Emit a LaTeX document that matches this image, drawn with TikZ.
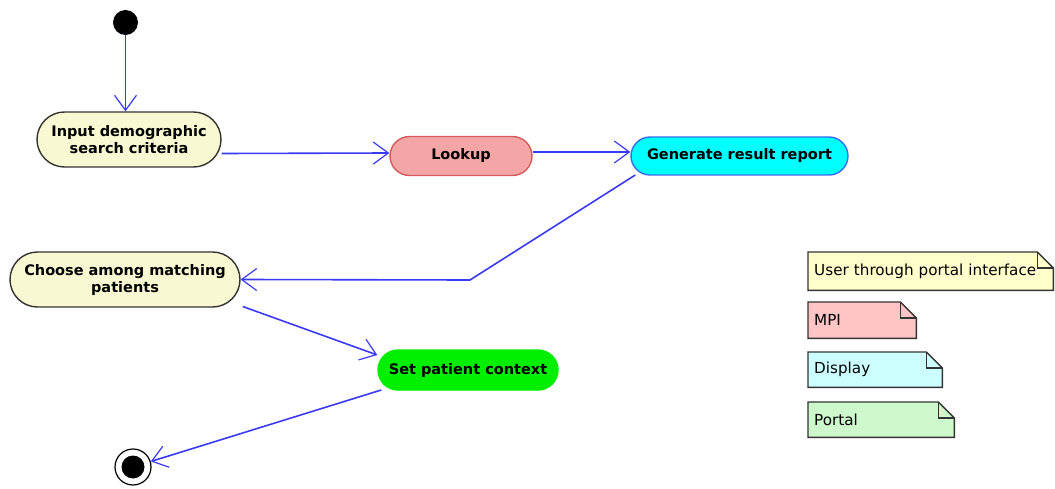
\documentclass[tikz,border=0pt]{standalone}
\usepackage{fontspec}
\setmainfont{DejaVu Sans}
\usetikzlibrary{shapes.misc,arrows.meta,calc,backgrounds}

\definecolor{flowblue}{HTML}{3A3AF4}
\definecolor{userfill}{HTML}{F8F8D2}
\definecolor{mpifill}{HTML}{F4A6A6}
\definecolor{mpiedge}{HTML}{D25C5C}
\definecolor{dispfill}{HTML}{00FFFF}
\definecolor{dispedge}{HTML}{3A6CE8}
\definecolor{portfill}{HTML}{00EE00}
\definecolor{usernote}{HTML}{FFFFCC}
\definecolor{mpinote}{HTML}{FFC4C4}
\definecolor{dispnote}{HTML}{CCFFFF}
\definecolor{portnote}{HTML}{CCF8CC}
\definecolor{outline}{HTML}{333333}

\tikzset{
  activity/.style={rounded rectangle, line width=1.4pt, align=center,
    inner sep=0pt, font=\bfseries\fontsize{14.5}{17}\selectfont},
  flow/.style={draw=flowblue, line width=1.6pt,
    -{Straight Barb[length=15pt,width=22pt,line width=1.2pt]}},
  legend/.style={anchor=north west, inner xsep=6pt, inner ysep=0pt,
    font=\fontsize{15.2}{17}\selectfont, align=left},
  notebody/.style={draw=outline, line width=1.4pt, line join=miter},
}

% folded-corner note outline drawn behind a legend node
\newcommand\foldnote[2]{%
  \draw[notebody, fill=#2]
    (#1.south west) -- (#1.north west) -- ([xshift=-16pt]#1.north east)
    -- ([yshift=-16pt]#1.north east) -- (#1.south east) -- cycle;
  \draw[notebody]
    ([xshift=-16pt]#1.north east) -- ([xshift=-16pt,yshift=-16pt]#1.north east)
    -- ([yshift=-16pt]#1.north east);
}

\begin{document}
\begin{tikzpicture}[x=1pt,y=-1pt]
\useasboundingbox (0,0) rectangle (1055,489);

% start and end states
\node[circle, fill=black, minimum size=25pt, inner sep=0pt] (init) at (125.5,22.5) {};
\node[circle, draw=black, line width=1.2pt, minimum size=36pt, inner sep=0pt,
      path picture={\fill[black] (path picture bounding box.center) circle (11.5pt);}]
      (final) at (133,467) {};

% activities
\node[activity, draw=outline, fill=userfill, minimum width=184pt, minimum height=55pt]
  (input) at (129,139.5) {Input demographic\\search criteria};
\node[activity, draw=mpiedge, fill=mpifill, minimum width=142pt, minimum height=39pt]
  (lookup) at (461,156) {Lookup};
\node[activity, draw=dispedge, fill=dispfill, minimum width=217pt, minimum height=38pt]
  (generate) at (739.5,156) {Generate result report};
\node[activity, draw=outline, fill=userfill, minimum width=230pt, minimum height=55pt]
  (choose) at (125,279.5) {Choose among matching\\patients};
\node[activity, draw=portfill, fill=portfill, minimum width=180pt, minimum height=40pt]
  (setctx) at (468,370) {Set patient context};

% transitions
\coordinate (bend) at (470,280);
\draw[flow] (init) -- ([xshift=-3.5pt]input.north);
\draw[flow] ($(input.east)+(0,14)$) -- ($(lookup.west)+(0,-3)$);
\draw[flow] ($(lookup.east)+(0,-4)$) -- ($(generate.west)+(0,-4)$);
\draw[flow] ($(generate.west)+(5,19)$) -- (bend) -- (choose.east);
\draw[flow] ($(choose.east)+(2,27)$) -- ($(setctx.west)+(0,-15)$);
\draw[flow] ($(setctx.west)+(4,20)$) -- (final);

% legend
\node[legend, text width=233pt, minimum height=38pt] (nuser) at (808,252) {User through portal interface};
\node[legend, text width=96pt, minimum height=36pt] (nmpi) at (808,302) {MPI};
\node[legend, text width=122pt, minimum height=35pt] (ndisp) at (808,352) {Display};
\node[legend, text width=134pt, minimum height=35pt] (nport) at (808,402) {Portal};
\begin{scope}[on background layer]
  \foldnote{nuser}{usernote}
  \foldnote{nmpi}{mpinote}
  \foldnote{ndisp}{dispnote}
  \foldnote{nport}{portnote}
\end{scope}
\end{tikzpicture}
\end{document}
